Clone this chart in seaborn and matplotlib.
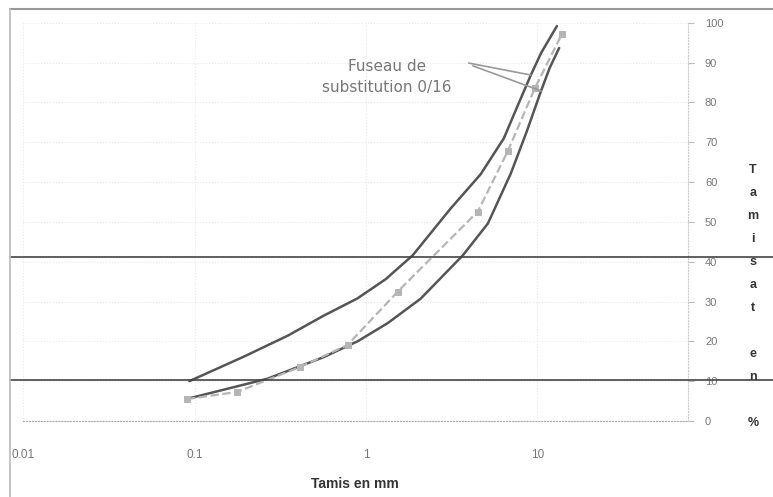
import matplotlib
matplotlib.use("Agg")
import matplotlib.pyplot as plt
import matplotlib.lines as mlines
import seaborn as sns

# Fuseau de substitution 0/16 - borne supérieure
borne_sup_x = [0.0929, 0.192, 0.348, 0.563, 0.891, 1.30, 1.87, 3.12, 4.67,
               6.37, 7.69, 9.16, 10.5, 13.0]
borne_sup_y = [10, 16.1, 21.4, 26.4, 30.8, 35.6, 41.6, 53.4, 62.0,
               71.0, 79.3, 86.9, 92.4, 99.2]

# Fuseau de substitution 0/16 - borne inférieure
borne_inf_x = [0.0892, 0.265, 0.563, 0.891, 1.34, 2.08, 3.67, 5.14, 7.0,
               8.68, 10.5, 11.8, 13.4]
borne_inf_y = [5.5, 10.6, 16.0, 20.0, 24.6, 30.7, 41.6, 49.6, 62.2,
               72.8, 82.9, 88.7, 93.7]

# Courbe granulométrique mesurée
courbe_x = [0.0904, 0.177, 0.414, 0.78, 1.53, 4.49, 6.72, 9.67, 13.9]
courbe_y = [5.5, 7.3, 13.6, 19.1, 32.5, 52.6, 67.8, 83.6, 97.2]

# lignes horizontales tracées sur tout le graphique
lignes_ref = [41.3, 10.3]

x_ticks = [0.01, 0.1, 1, 10]
x_labels = ["0.01", "0.1", "1", "10"]
y_ticks = list(range(0, 101, 10))

sns.set_style("white")
plt.rcParams['font.family'] = ['Liberation Sans', 'DejaVu Sans']

fig = plt.figure(figsize=(7.73, 4.97), dpi=100)
ax = fig.add_axes([0.0304, 0.153, 0.860, 0.801])

sns.lineplot(x=borne_sup_x, y=borne_sup_y, sort=False, color="#555555",
             linewidth=1.8, ax=ax)
sns.lineplot(x=borne_inf_x, y=borne_inf_y, sort=False, color="#555555",
             linewidth=1.8, ax=ax)
sns.lineplot(x=courbe_x, y=courbe_y, sort=False, color="#b5b5b5",
             linewidth=1.6, linestyle="--", marker="s", markersize=5,
             markeredgecolor="#b5b5b5", ax=ax)

ax.set_xscale("log")
ax.set_xlim(0.01, 76)
ax.set_ylim(0, 100)

ax.set_xticks(x_ticks)
ax.set_xticklabels(x_labels)
ax.minorticks_off()
ax.tick_params(axis="x", length=0, pad=20, labelsize=8.5, labelcolor="#777777")

ax.yaxis.tick_right()
ax.set_yticks(y_ticks)
ax.tick_params(axis="y", length=4, width=0.8, color="#bbbbbb", pad=8,
               labelsize=8, labelcolor="#777777")

ax.grid(True, color="#e8e8e8", linestyle=":", linewidth=0.8)

for s in ["top", "left"]:
    ax.spines[s].set_visible(False)
ax.spines["bottom"].set_color("#aaaaaa")
ax.spines["bottom"].set_linestyle(":")
ax.spines["right"].set_color("#cccccc")
ax.spines["right"].set_linestyle(":")

# lignes de repère qui débordent du cadre
for v in lignes_ref:
    ax.axhline(v, xmin=-0.02, xmax=1.13, color="#444444", linewidth=1.2,
               clip_on=False, zorder=5)

# annotation du fuseau
ax.text(1.32, 86.4, "Fuseau de\nsubstitution 0/16", ha="center", va="center",
        fontsize=11, color="#777777", family="DejaVu Sans", linespacing=1.5)
ax.annotate("", xy=(borne_sup_x[11], borne_sup_y[11]), xytext=(3.97, 89.9),
            arrowprops=dict(arrowstyle="-", color="#999999", lw=1.2,
                            shrinkA=0, shrinkB=0))
ax.annotate("", xy=(borne_inf_x[10], borne_inf_y[10]), xytext=(4.2, 89.2),
            arrowprops=dict(arrowstyle="-", color="#999999", lw=1.2,
                            shrinkA=0, shrinkB=0))

ax.set_xlabel("Tamis en mm", fontsize=10, fontweight="bold", color="#333333")
ax.xaxis.set_label_coords(0.499, -0.14)

# titre vertical lettre par lettre
for i, c in enumerate("Tamisat en %"):
    fig.text(753 / 773, 1 - (170 + i * 23) / 497, c, ha="center", va="center",
             fontsize=9, fontweight="bold", color="#333333")

# cadre extérieur (haut et gauche)
fig.add_artist(mlines.Line2D([10 / 773, 1], [1 - 9 / 497] * 2,
                             color="#999999", linewidth=1.5))
fig.add_artist(mlines.Line2D([10 / 773] * 2, [0, 1 - 9 / 497],
                             color="#bbbbbb", linewidth=1.2))

fig.savefig("out.png", dpi=100)
